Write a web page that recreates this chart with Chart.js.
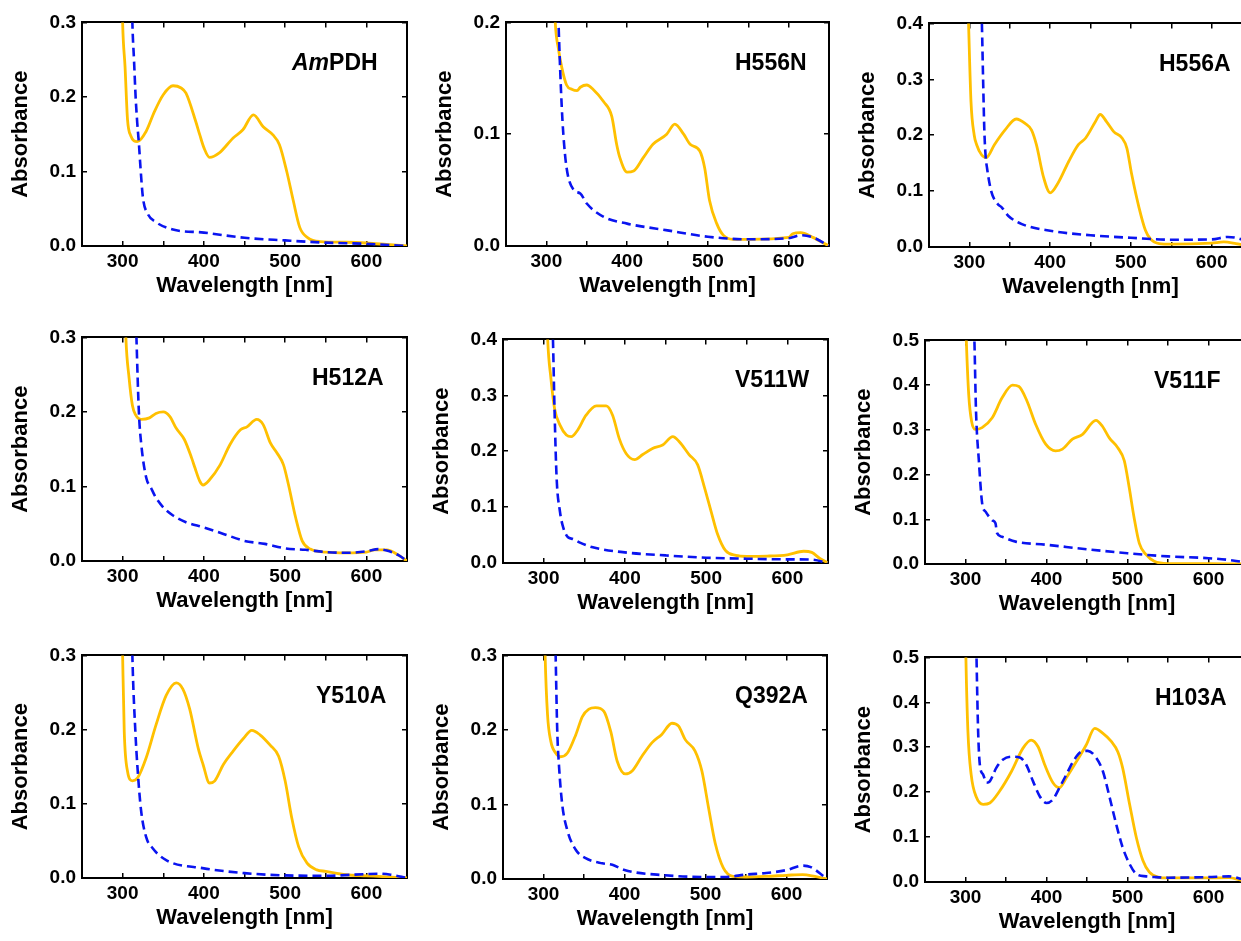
<!DOCTYPE html>
<html>
<head>
<meta charset="utf-8">
<script src="https://cdn.jsdelivr.net/npm/chart.js@4.4.0/dist/chart.umd.min.js"></script>
<style>
    html, body { margin: 0; padding: 0; background: #fff; width: 1241px; height: 941px; overflow: hidden; }
    body { position: relative; }
    canvas { position: absolute; }
</style>
</head>
<body>
<script>
// Espectros: amarelo = oxidado (linha cheia), azul = reduzido (tracejado)
// AmPDH
const amPdhOxNm   = [299, 300, 303, 306, 310, 318, 329, 339, 350, 362, 372, 378, 390, 395, 400, 407, 419, 436, 448, 461, 473, 485, 493, 502, 510, 518, 528, 543, 575, 600, 625, 650];
const amPdhOxAbs  = [0.36, 0.30, 0.24, 0.17, 0.148, 0.140, 0.154, 0.180, 0.203, 0.215, 0.212, 0.205, 0.167, 0.149, 0.132, 0.119, 0.125, 0.145, 0.156, 0.176, 0.160, 0.149, 0.136, 0.100, 0.061, 0.025, 0.011, 0.006, 0.005, 0.004, 0.002, 0.0];
const amPdhRedNm  = [311, 312, 314, 316, 318, 320, 322, 325, 331, 341, 362, 400, 450, 500, 550, 600, 650];
const amPdhRedAbs = [0.36, 0.30, 0.25, 0.20, 0.165, 0.138, 0.105, 0.065, 0.043, 0.032, 0.022, 0.018, 0.011, 0.0075, 0.0045, 0.003, 0.0];

// H556N
const h556nOxNm   = [310, 311, 315, 319, 325, 332, 338, 342, 350, 358, 371, 381, 387, 391, 400, 408, 420, 432, 449, 459, 470, 478, 490, 496, 502, 511, 519, 531, 550, 600, 605, 615, 630, 645, 650];
const h556nOxAbs  = [0.22, 0.20, 0.176, 0.160, 0.144, 0.140, 0.139, 0.142, 0.144, 0.140, 0.129, 0.116, 0.091, 0.079, 0.066, 0.067, 0.079, 0.091, 0.100, 0.109, 0.100, 0.091, 0.085, 0.070, 0.041, 0.020, 0.0097, 0.006, 0.006, 0.0077, 0.011, 0.012, 0.0077, 0.002, 0.0];
const h556nRedNm  = [314, 315, 317, 319, 321, 325, 334, 342, 350, 371, 400, 450, 500, 550, 600, 615, 630, 650];
const h556nRedAbs = [0.22, 0.20, 0.159, 0.125, 0.100, 0.070, 0.050, 0.047, 0.038, 0.026, 0.020, 0.014, 0.0083, 0.006, 0.007, 0.0097, 0.0077, 0.0];

// H556A
const h556aOxNm   = [298, 299, 302, 306, 309, 315, 321, 331, 344, 358, 369, 377, 383, 392, 400, 410, 423, 435, 444, 456, 462, 470, 479, 489, 495, 501, 510, 518, 524, 535, 550, 600, 615, 630, 650];
const h556aOxAbs  = [0.45, 0.40, 0.26, 0.20, 0.183, 0.165, 0.160, 0.183, 0.209, 0.229, 0.221, 0.209, 0.183, 0.124, 0.097, 0.115, 0.153, 0.183, 0.195, 0.224, 0.237, 0.224, 0.206, 0.195, 0.177, 0.130, 0.071, 0.030, 0.015, 0.006, 0.005, 0.007, 0.009, 0.006, 0.0];
const h556aRedNm  = [314.5, 315.5, 317, 318.5, 320, 322, 327, 335, 340, 348, 365, 400, 450, 500, 550, 600, 620, 640, 650];
const h556aRedAbs = [0.45, 0.40, 0.30, 0.21, 0.165, 0.14, 0.10, 0.077, 0.071, 0.056, 0.041, 0.029, 0.021, 0.0165, 0.013, 0.0136, 0.018, 0.012, 0.003];

// H512A
const h512aOxNm   = [303, 304, 308, 312, 316, 323, 333, 341, 350, 358, 366, 376, 385, 389, 395, 399, 407, 420, 432, 445, 453, 465, 473, 482, 490, 498, 504, 513, 521, 531, 550, 575, 600, 610, 625, 640, 650];
const h512aOxAbs  = [0.34, 0.30, 0.245, 0.209, 0.196, 0.190, 0.192, 0.198, 0.200, 0.194, 0.178, 0.163, 0.138, 0.125, 0.107, 0.102, 0.109, 0.129, 0.156, 0.176, 0.180, 0.190, 0.183, 0.158, 0.145, 0.129, 0.103, 0.058, 0.027, 0.016, 0.012, 0.011, 0.012, 0.015, 0.015, 0.0075, 0.0];
const h512aRedNm  = [316, 317, 320, 323, 329, 335, 341, 350, 362, 378, 400, 425, 450, 475, 500, 525, 550, 575, 600, 615, 625, 640, 650];
const h512aRedAbs = [0.34, 0.30, 0.20, 0.156, 0.112, 0.098, 0.085, 0.072, 0.061, 0.052, 0.045, 0.036, 0.027, 0.023, 0.017, 0.015, 0.012, 0.011, 0.013, 0.016, 0.014, 0.0075, 0.0];

// V511W
const v511wOxNm   = [304, 305, 309, 313.5, 320, 328, 334, 342, 352, 365, 377, 385, 393, 401.5, 412, 422, 434, 446.5, 459, 467, 479, 489.5, 498, 506, 514, 524, 536.5, 550, 575, 600, 620, 630, 640, 650];
const v511wOxAbs  = [0.45, 0.40, 0.33, 0.276, 0.247, 0.229, 0.226, 0.238, 0.264, 0.281, 0.281, 0.264, 0.223, 0.196, 0.185, 0.194, 0.205, 0.211, 0.226, 0.217, 0.194, 0.176, 0.135, 0.093, 0.052, 0.022, 0.0136, 0.012, 0.0124, 0.0147, 0.021, 0.019, 0.008, 0.0];
const v511wRedNm  = [310.5, 311.5, 313.5, 316, 320, 324, 330, 336, 344, 360.5, 400, 450, 500, 550, 600, 630, 650];
const v511wRedAbs = [0.45, 0.40, 0.27, 0.152, 0.093, 0.064, 0.046, 0.043, 0.037, 0.028, 0.019, 0.0136, 0.0094, 0.0077, 0.0065, 0.006, 0.0];

// V511F
const v511fOxNm   = [300, 301, 304, 307.5, 312, 320.5, 333, 345, 358, 366, 376, 386.7, 399, 411, 419.7, 432, 444.5, 461, 469, 477.5, 488, 496, 502, 508, 514.6, 523, 533, 550, 600, 650];
const v511fOxAbs  = [0.56, 0.50, 0.378, 0.319, 0.301, 0.305, 0.327, 0.371, 0.400, 0.397, 0.364, 0.312, 0.268, 0.253, 0.257, 0.279, 0.290, 0.321, 0.308, 0.282, 0.260, 0.231, 0.172, 0.105, 0.046, 0.021, 0.006, 0.001, 0.001, 0.0];
const v511fRedNm  = [310, 311, 313, 316.5, 320.6, 324.8, 333, 337, 339, 345, 362, 400, 450, 500, 550, 600, 630, 650];
const v511fRedAbs = [0.56, 0.50, 0.341, 0.231, 0.135, 0.117, 0.098, 0.091, 0.069, 0.061, 0.050, 0.043, 0.033, 0.024, 0.017, 0.013, 0.008, 0.002];

// Y510A
const y510aOxNm   = [299, 300, 302, 306, 312, 318.5, 329, 341, 353.6, 366, 374, 382.5, 393, 399, 407, 413.5, 424, 436, 448.6, 459, 469, 481.6, 492, 500, 508, 516.7, 527, 539, 550, 575, 600, 630, 650];
const y510aOxAbs  = [0.36, 0.30, 0.197, 0.144, 0.131, 0.135, 0.162, 0.206, 0.246, 0.263, 0.255, 0.228, 0.175, 0.153, 0.128, 0.131, 0.153, 0.171, 0.188, 0.199, 0.193, 0.179, 0.164, 0.131, 0.082, 0.042, 0.020, 0.011, 0.009, 0.0044, 0.003, 0.0013, 0.0];
const y510aRedNm  = [311, 312, 315.7, 318.6, 322.7, 329, 337, 353.6, 400, 450, 500, 550, 600, 615, 630, 650];
const y510aRedAbs = [0.36, 0.30, 0.197, 0.144, 0.091, 0.055, 0.040, 0.024, 0.013, 0.0066, 0.0035, 0.003, 0.0053, 0.0058, 0.0044, 0.0];

// Q392A
const q392aOxNm   = [301, 302, 305, 309, 315, 321, 329.5, 340, 348, 356, 364, 374.6, 383, 391, 401, 409.4, 421.7, 434, 446, 458.6, 466.8, 475, 487, 495.5, 503.7, 512, 522, 534, 550, 575, 600, 620, 635, 650];
const q392aOxAbs  = [0.36, 0.30, 0.22, 0.185, 0.169, 0.164, 0.169, 0.194, 0.218, 0.228, 0.230, 0.225, 0.198, 0.158, 0.141, 0.145, 0.165, 0.183, 0.194, 0.209, 0.205, 0.187, 0.172, 0.145, 0.096, 0.048, 0.015, 0.0035, 0.0027, 0.0035, 0.005, 0.006, 0.0035, 0.0];
const q392aRedNm  = [314, 315, 317, 319, 323, 329.5, 340, 352, 372.5, 385, 400, 450, 500, 525, 550, 575, 600, 620, 630, 645, 650];
const q392aRedAbs = [0.36, 0.30, 0.198, 0.154, 0.101, 0.065, 0.039, 0.028, 0.021, 0.019, 0.012, 0.005, 0.0027, 0.0027, 0.006, 0.008, 0.012, 0.018, 0.016, 0.0044, 0.0];

// H103A
const h103aOxNm   = [300, 300.5, 303, 307, 313.6, 321.8, 330, 342, 356.7, 371, 381, 389.6, 397.8, 408, 416, 424.5, 436.9, 449, 459.5, 469.7, 480, 488, 494, 502.6, 510.9, 519, 527, 537.6, 550, 600, 625, 640, 650];
const h103aOxAbs  = [0.56, 0.50, 0.335, 0.239, 0.188, 0.173, 0.176, 0.202, 0.246, 0.298, 0.316, 0.301, 0.261, 0.221, 0.210, 0.232, 0.268, 0.305, 0.342, 0.331, 0.313, 0.290, 0.254, 0.173, 0.099, 0.048, 0.022, 0.011, 0.009, 0.009, 0.0096, 0.004, 0.0];
const h103aRedNm  = [313, 313.6, 315.6, 317.7, 321.8, 326, 330, 338, 346, 356.7, 367, 375, 383.4, 391.6, 400, 408, 416, 424.5, 432.8, 443, 451, 461.5, 469.7, 478, 486, 494, 502.6, 510.9, 523, 533, 550, 600, 625, 640, 650];
const h103aRedAbs = [0.56, 0.50, 0.335, 0.261, 0.239, 0.221, 0.224, 0.254, 0.272, 0.279, 0.277, 0.261, 0.224, 0.191, 0.176, 0.184, 0.210, 0.239, 0.268, 0.290, 0.292, 0.276, 0.246, 0.188, 0.129, 0.077, 0.040, 0.018, 0.0125, 0.011, 0.0096, 0.011, 0.0125, 0.007, 0.0];

// Rótulos dos painéis: [parte em itálico, parte normal]
const panelNames = [['Am', 'PDH'], ['', 'H556N'], ['', 'H556A'], ['', 'H512A'], ['', 'V511W'], ['', 'V511F'], ['', 'Y510A'], ['', 'Q392A'], ['', 'H103A']];
const yMaxes = [0.3, 0.2, 0.4, 0.3, 0.4, 0.5, 0.3, 0.3, 0.5];
const xMin = 250, xMax = 650;
const oxSeries = [
    [amPdhOxNm, amPdhOxAbs], [h556nOxNm, h556nOxAbs], [h556aOxNm, h556aOxAbs],
    [h512aOxNm, h512aOxAbs], [v511wOxNm, v511wOxAbs], [v511fOxNm, v511fOxAbs],
    [y510aOxNm, y510aOxAbs], [q392aOxNm, q392aOxAbs], [h103aOxNm, h103aOxAbs]
];
const redSeries = [
    [amPdhRedNm, amPdhRedAbs], [h556nRedNm, h556nRedAbs], [h556aRedNm, h556aRedAbs],
    [h512aRedNm, h512aRedAbs], [v511wRedNm, v511wRedAbs], [v511fRedNm, v511fRedAbs],
    [y510aRedNm, y510aRedAbs], [q392aRedNm, q392aRedAbs], [h103aRedNm, h103aRedAbs]
];

// Posição da área do gráfico na página (left, top, right, bottom) e deslocamento do rótulo
const plotBoxes = [
    [82, 20, 407, 246], [506, 20, 829, 246], [929, 21, 1252, 247],
    [82, 335, 407, 561], [503, 337, 828, 563], [925, 338, 1249, 564],
    [82, 653, 407, 878], [503, 653, 827, 879], [925, 655, 1249, 882]
];
const labelDx = [210, 229, 230, 230, 232, 229, 234, 232, 230];

const FONT = '"Liberation Sans", Arial, Helvetica, sans-serif';
const LEFT_SPACE = 82, TOP_SPACE = 20, RIGHT_SPACE = 20, BOTTOM_SPACE = 62;

function pairs(nm, abs) {
    return nm.map((x, i) => ({ x: x, y: abs[i] }));
}

// Desenha o nome da variante no canto superior direito
const panelLabel = {
    id: 'panelLabel',
    afterDraw(chart, args, opts) {
        const { ctx, chartArea } = chart;
        ctx.save();
        ctx.fillStyle = '#000';
        ctx.textBaseline = 'alphabetic';
        ctx.textAlign = 'left';
        let x = chartArea.left + opts.dx;
        const y = chartArea.top + 48;
        if (opts.italic) {
            ctx.font = 'italic bold 23px ' + FONT;
            ctx.fillText(opts.italic, x, y);
            x += ctx.measureText(opts.italic).width;
        }
        ctx.font = 'bold 23px ' + FONT;
        ctx.fillText(opts.text, x, y);
        ctx.restore();
    }
};

function tickGrid() {
    return {
        display: true,
        drawOnChartArea: false,
        drawTicks: true,
        tickLength: -5,
        color: '#000',
        lineWidth: 1.5
    };
}

function renderPanel(i) {
    const [L, T, R, B] = plotBoxes[i];
    const canvas = document.createElement('canvas');
    canvas.width = LEFT_SPACE + (R - L) + RIGHT_SPACE;
    canvas.height = TOP_SPACE + (B - T) + BOTTOM_SPACE;
    canvas.style.left = (L - LEFT_SPACE) + 'px';
    canvas.style.top = (T - TOP_SPACE) + 'px';
    document.body.appendChild(canvas);

    const yMax = yMaxes[i];
    const tickFont = { family: FONT, size: 19, weight: 'bold' };
    const titleFont = { family: FONT, size: 22, weight: 'bold' };
    const border = { display: true, color: '#000', width: 2 };

    new Chart(canvas.getContext('2d'), {
        type: 'line',
        data: {
            datasets: [{
                label: 'reduzido',
                data: pairs(redSeries[i][0], redSeries[i][1]),
                borderColor: '#0a14f0',
                borderWidth: 2.6,
                borderDash: [9, 5],
                pointRadius: 0,
                fill: false,
                cubicInterpolationMode: 'monotone'
            },
            {
                label: 'oxidado',
                data: pairs(oxSeries[i][0], oxSeries[i][1]),
                borderColor: '#ffc000',
                borderWidth: 2.8,
                pointRadius: 0,
                fill: false,
                cubicInterpolationMode: 'monotone'
            }]
        },
        options: {
            responsive: false,
            animation: false,
            events: [],
            layout: { padding: { top: TOP_SPACE, right: RIGHT_SPACE, left: 0, bottom: 0 } },
            plugins: {
                legend: { display: false },
                tooltip: { enabled: false },
                panelLabel: { dx: labelDx[i], italic: panelNames[i][0], text: panelNames[i][1] }
            },
            scales: {
                x: {
                    type: 'linear',
                    position: 'bottom',
                    min: xMin,
                    max: xMax,
                    border: border,
                    grid: tickGrid(),
                    ticks: {
                        stepSize: 50,
                        autoSkip: false,
                        maxRotation: 0,
                        padding: 9,
                        color: '#000',
                        font: tickFont,
                        callback: v => (v % 100 === 0 ? String(v) : '')
                    },
                    title: {
                        display: true,
                        text: 'Wavelength [nm]',
                        color: '#000',
                        font: titleFont,
                        padding: { top: 0, bottom: 9 }
                    },
                    afterFit: s => { s.height = BOTTOM_SPACE; }
                },
                x2: {
                    type: 'linear',
                    position: 'top',
                    min: xMin,
                    max: xMax,
                    border: border,
                    grid: tickGrid(),
                    ticks: { stepSize: 50, autoSkip: false, display: false },
                    afterFit: s => { s.height = 0; }
                },
                y: {
                    type: 'linear',
                    position: 'left',
                    min: 0,
                    max: yMax,
                    border: border,
                    grid: tickGrid(),
                    ticks: {
                        stepSize: 0.1,
                        padding: 11,
                        color: '#000',
                        font: tickFont,
                        callback: v => v.toFixed(1)
                    },
                    title: {
                        display: true,
                        text: 'Absorbance',
                        color: '#000',
                        font: titleFont,
                        padding: { top: 8, bottom: 0 }
                    },
                    afterFit: s => { s.width = LEFT_SPACE; }
                },
                y2: {
                    type: 'linear',
                    position: 'right',
                    min: 0,
                    max: yMax,
                    border: border,
                    grid: tickGrid(),
                    ticks: { stepSize: 0.1, display: false },
                    afterFit: s => { s.width = 0; }
                }
            }
        },
        plugins: [panelLabel]
    });
}

for (let i = 0; i < plotBoxes.length; i++) {
    renderPanel(i);
}
</script>
</body>
</html>
